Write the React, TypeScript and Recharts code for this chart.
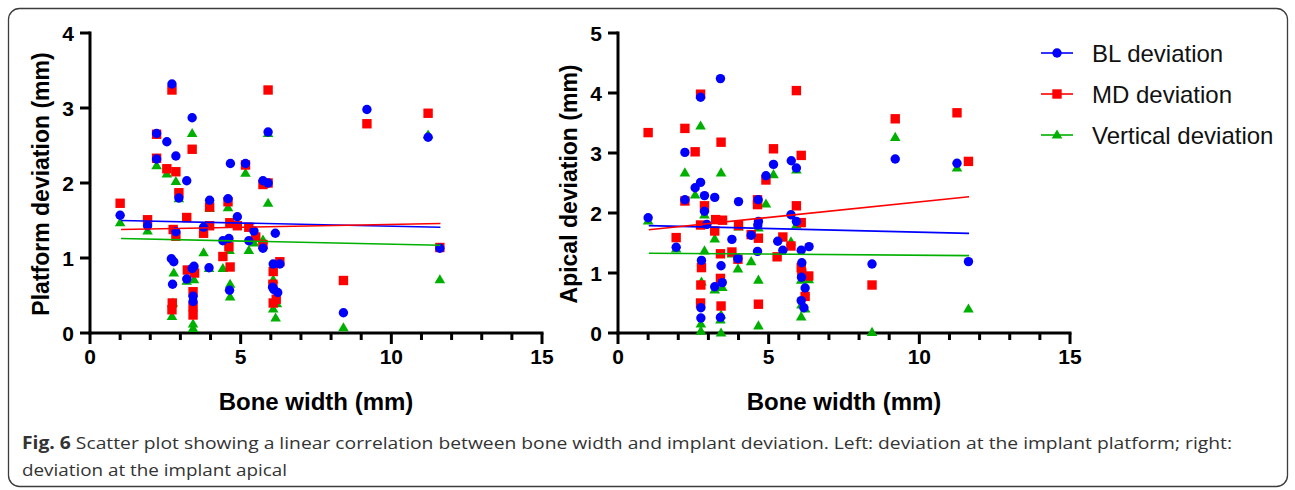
import React from 'react';
import { ScatterChart, Scatter, XAxis, YAxis } from 'recharts';

type Pt = [number, number];

// bone width axis (shared by both panels)
const boneTicks = [0, 1, 2, 3, 4, 5, 6, 7, 8, 9, 10, 11, 12, 13, 14, 15];
const platformTicks = [0, 1, 2, 3, 4];
const apicalTicks = [0, 1, 2, 3, 4, 5];

const seriesNames = ['BL deviation', 'MD deviation', 'Vertical deviation'];

// ---- left panel: platform deviation ----
const platformBL: Pt[] = [
  [1.0, 1.57], [1.91, 1.43], [2.21, 2.66], [2.21, 2.32], [2.55, 2.55], [2.72, 3.32], [2.7, 0.99],
  [2.78, 0.95], [2.74, 0.65], [2.85, 2.36], [2.85, 1.35], [2.95, 1.8], [3.21, 2.03], [3.21, 0.72],
  [3.39, 2.87], [3.39, 0.86], [3.45, 0.89], [3.42, 0.49], [3.42, 0.42], [3.77, 1.41], [3.95, 0.87],
  [3.97, 1.77], [4.41, 1.23], [4.61, 1.26], [4.58, 1.79], [4.66, 2.26], [4.63, 0.57], [4.89, 1.55],
  [5.16, 2.26], [5.27, 1.23], [5.44, 1.36], [5.74, 1.13], [5.74, 2.03], [5.91, 2.0], [5.91, 2.68],
  [6.08, 0.92], [6.15, 1.33], [6.06, 0.61], [6.1, 0.58], [6.23, 0.54], [6.3, 0.92], [8.41, 0.27],
  [9.19, 2.98], [11.22, 2.61], [11.61, 1.13],
];
const platformMD: Pt[] = [
  [1.0, 1.73], [1.91, 1.51], [2.21, 2.65], [2.21, 2.33], [2.55, 2.19], [2.72, 3.24], [2.85, 2.15],
  [2.95, 1.87], [2.76, 1.38], [2.85, 1.29], [2.73, 0.4], [2.72, 0.31], [3.21, 1.54], [3.23, 0.84],
  [3.39, 2.45], [3.42, 0.55], [3.42, 0.35], [3.42, 0.24], [3.47, 0.8], [3.77, 1.33], [3.97, 1.43],
  [3.97, 1.68], [4.41, 1.02], [4.58, 1.75], [4.64, 1.47], [4.61, 1.15], [4.65, 0.88], [4.89, 1.43],
  [5.16, 2.24], [5.27, 1.41], [5.5, 1.28], [5.74, 1.18], [5.74, 1.98], [5.91, 2.0], [5.91, 3.24],
  [6.08, 0.82], [6.07, 0.65], [6.08, 0.4], [6.18, 0.45], [6.3, 0.95], [8.41, 0.7], [9.19, 2.79],
  [11.22, 2.93], [11.61, 1.14],
];
const platformVT: Pt[] = [
  [1.0, 1.47], [1.91, 1.36], [2.21, 2.23], [2.55, 2.12], [2.78, 0.8], [2.75, 0.4], [2.72, 0.22],
  [2.85, 2.02], [2.95, 1.79], [3.39, 2.66], [3.45, 0.71], [3.21, 0.69], [3.42, 0.12], [3.42, 0.06],
  [3.77, 1.07], [3.97, 1.66], [3.95, 0.86], [4.41, 0.86], [4.58, 1.67], [4.63, 1.1], [4.65, 0.65],
  [4.65, 0.48], [5.16, 2.13], [5.27, 1.1], [5.44, 1.2], [5.74, 1.24], [5.91, 1.73], [5.91, 2.66],
  [6.08, 0.71], [6.08, 0.32], [6.2, 0.39], [6.16, 0.2], [8.41, 0.07], [11.22, 2.64], [11.61, 0.71],
];
// fitted lines, end points
const platformFitBL: Pt[] = [[1.03, 1.5], [11.63, 1.41]];
const platformFitMD: Pt[] = [[1.03, 1.38], [11.63, 1.46]];
const platformFitVT: Pt[] = [[1.03, 1.26], [11.63, 1.17]];

// ---- right panel: apical deviation ----
const apicalBL: Pt[] = [
  [1.0, 1.92], [1.93, 1.43], [2.22, 3.01], [2.22, 2.22], [2.56, 2.42], [2.74, 2.51], [2.74, 3.93],
  [2.87, 2.29], [2.87, 2.03], [2.95, 1.81], [2.77, 1.21], [2.75, 0.42], [2.75, 0.25], [3.21, 2.26],
  [3.21, 0.77], [3.4, 4.24], [3.42, 1.12], [3.46, 0.84], [3.4, 0.26], [3.78, 1.56], [4.0, 2.19],
  [3.98, 1.24], [4.42, 1.63], [4.65, 2.22], [4.66, 1.86], [4.64, 1.8], [4.63, 1.36], [4.91, 2.62],
  [5.16, 2.81], [5.3, 1.53], [5.47, 1.38], [5.75, 2.87], [5.92, 2.75], [5.74, 1.97], [5.92, 1.86],
  [6.08, 1.38], [6.1, 1.17], [6.09, 0.93], [6.08, 0.54], [6.17, 0.42], [6.21, 0.75], [6.34, 1.44],
  [8.43, 1.15], [9.2, 2.9], [11.25, 2.83], [11.63, 1.19],
];
const apicalMD: Pt[] = [
  [1.0, 3.34], [1.93, 1.59], [2.22, 3.41], [2.22, 2.2], [2.56, 3.02], [2.74, 3.98], [2.87, 2.12],
  [2.74, 1.8], [2.77, 1.09], [2.75, 0.8], [2.74, 0.5], [3.21, 1.7], [3.24, 1.89], [3.42, 3.18],
  [3.47, 1.88], [3.4, 1.32], [3.4, 0.91], [3.42, 0.45], [3.78, 1.35], [4.0, 1.79], [3.98, 1.23],
  [4.42, 1.64], [4.63, 2.22], [4.63, 2.14], [4.66, 1.58], [4.66, 0.48], [4.91, 2.55], [5.16, 3.07],
  [5.28, 1.27], [5.47, 1.6], [5.74, 1.45], [5.92, 4.04], [5.92, 2.12], [6.08, 2.96], [6.08, 1.84],
  [6.08, 1.09], [6.1, 1.0], [6.33, 0.95], [6.21, 0.61], [8.43, 0.8], [9.2, 3.57], [11.25, 3.67],
  [11.63, 2.86],
];
const apicalVT: Pt[] = [
  [1.0, 1.87], [1.93, 1.4], [2.22, 2.67], [2.56, 2.3], [2.74, 3.45], [2.87, 1.97], [2.87, 1.37],
  [2.77, 0.85], [2.75, 0.15], [2.75, 0.03], [3.21, 1.57], [3.21, 0.72], [3.42, 2.67], [3.46, 0.76],
  [3.42, 0.3], [3.4, 0.22], [3.42, 0.0], [3.78, 1.32], [4.0, 1.77], [3.98, 1.07], [4.42, 1.19],
  [4.66, 1.75], [4.66, 0.88], [4.66, 0.12], [4.91, 2.15], [5.16, 2.64], [5.74, 1.52], [5.92, 2.72],
  [5.92, 1.8], [6.08, 0.88], [6.09, 0.47], [6.08, 0.27], [6.21, 0.4], [6.33, 0.89], [8.43, 0.01],
  [9.2, 3.26], [11.25, 2.75], [11.63, 0.4],
];
const apicalFitBL: Pt[] = [[1.02, 1.79], [11.65, 1.66]];
const apicalFitMD: Pt[] = [[1.02, 1.72], [11.65, 2.27]];
const apicalFitVT: Pt[] = [[1.02, 1.33], [11.65, 1.29]];

const BLUE = '#0000ff';
const RED = '#ff0000';
const GREEN = '#00b000';
const FONT = '"Liberation Sans", Arial, Helvetica, sans-serif';

const toXY = (pts: Pt[]) => pts.map(([x, y]) => ({ x, y }));

const Circle = (p: any) => <circle cx={p.cx} cy={p.cy} r={4.7} fill={BLUE} />;
const Square = (p: any) => <rect x={p.cx - 4.7} y={p.cy - 4.7} width={9.4} height={9.4} fill={RED} />;
const Triangle = (p: any) => (
  <polygon
    points={`${p.cx},${p.cy - 5.6} ${p.cx - 5.3},${p.cy + 3.6} ${p.cx + 5.3},${p.cy + 3.6}`}
    fill={GREEN}
  />
);
const NoDot = () => <g />;

const XTick = (p: any) => {
  const v = p.payload.value;
  const major = v % 5 === 0;
  return (
    <g>
      <line x1={p.x} x2={p.x} y1={p.y} y2={p.y + (major ? 11 : 7)} stroke="#000" strokeWidth={3} />
      {major && (
        <text x={p.x} y={p.y + 31} textAnchor="middle" fontSize={21} fontWeight="bold" fontFamily={FONT} fill="#000">
          {v}
        </text>
      )}
    </g>
  );
};

const YTick = (p: any) => (
  <g>
    <line x1={p.x - 10} x2={p.x} y1={p.y} y2={p.y} stroke="#000" strokeWidth={3} />
    <text x={p.x - 16} y={p.y + 7.5} textAnchor="end" fontSize={21} fontWeight="bold" fontFamily={FONT} fill="#000">
      {p.payload.value}
    </text>
  </g>
);

interface PanelProps {
  left: number;
  yMax: number;
  yTicks: number[];
  yAxisWidth: number;
  rightMargin: number;
  bl: Pt[];
  md: Pt[];
  vt: Pt[];
  fits: Pt[][];
}

const Panel: React.FC<PanelProps> = ({ left, yMax, yTicks, yAxisWidth, rightMargin, bl, md, vt, fits }) => (
  <div style={{ position: 'absolute', left, top: 0 }}>
    <ScatterChart width={580} height={420} margin={{ top: 33, right: rightMargin, bottom: 0, left: 0 }}>
      <XAxis
        type="number"
        dataKey="x"
        domain={[0, 15]}
        ticks={boneTicks}
        interval={0}
        tick={<XTick />}
        tickLine={false}
        tickSize={0}
        tickMargin={0}
        height={87}
        axisLine={{ stroke: '#000', strokeWidth: 3, strokeLinecap: 'square' }}
      />
      <YAxis
        type="number"
        dataKey="y"
        domain={[0, yMax]}
        ticks={yTicks}
        interval={0}
        tick={<YTick />}
        tickLine={false}
        tickSize={0}
        tickMargin={0}
        width={yAxisWidth}
        axisLine={{ stroke: '#000', strokeWidth: 3, strokeLinecap: 'square' }}
      />
      <Scatter data={toXY(vt)} shape={Triangle} isAnimationActive={false} />
      <Scatter data={toXY(md)} shape={Square} isAnimationActive={false} />
      <Scatter data={toXY(bl)} shape={Circle} isAnimationActive={false} />
      {fits.map((f, i) => (
        <Scatter
          key={i}
          data={toXY(f)}
          shape={NoDot}
          line={{ stroke: [BLUE, RED, GREEN][i], strokeWidth: 1.6 }}
          isAnimationActive={false}
        />
      ))}
    </ScatterChart>
  </div>
);

const legendRows = [
  { name: seriesNames[0], color: BLUE, y: 53 },
  { name: seriesNames[1], color: RED, y: 94 },
  { name: seriesNames[2], color: GREEN, y: 135 },
];

const App: React.FC = () => (
  <div style={{ position: 'absolute', left: 0, top: 0, width: 1295, height: 490, background: '#fff', overflow: 'hidden' }}>
    <Panel
      left={0}
      yMax={4}
      yTicks={platformTicks}
      yAxisWidth={90}
      rightMargin={38}
      bl={platformBL}
      md={platformMD}
      vt={platformVT}
      fits={[platformFitBL, platformFitMD, platformFitVT]}
    />
    <Panel
      left={520}
      yMax={5}
      yTicks={apicalTicks}
      yAxisWidth={98}
      rightMargin={30}
      bl={apicalBL}
      md={apicalMD}
      vt={apicalVT}
      fits={[apicalFitBL, apicalFitMD, apicalFitVT]}
    />
    <svg width={1295} height={490} style={{ position: 'absolute', left: 0, top: 0, pointerEvents: 'none' }}>
      <rect x={8.5} y={8.5} width={1279} height={478} rx={11} fill="none" stroke="#3c3c3c" strokeWidth={1.3} />

      {/* axis titles */}
      <text x={316} y={410} textAnchor="middle" fontSize={24} fontWeight="bold" fontFamily={FONT}>Bone width (mm)</text>
      <text x={844} y={410} textAnchor="middle" fontSize={24} fontWeight="bold" fontFamily={FONT}>Bone width (mm)</text>
      <text transform="translate(41,184) rotate(-90)" textAnchor="middle" dominantBaseline="central" fontSize={23} fontWeight="bold" fontFamily={FONT}>
        Platform deviation (mm)
      </text>
      <text transform="translate(569,184) rotate(-90)" textAnchor="middle" dominantBaseline="central" fontSize={23} fontWeight="bold" fontFamily={FONT}>
        Apical deviation (mm)
      </text>

      {/* legend */}
      {legendRows.map((r, i) => (
        <g key={r.name}>
          <line x1={1041} x2={1073} y1={r.y} y2={r.y} stroke={r.color} strokeWidth={1.6} />
          {i === 0 && <circle cx={1057} cy={r.y} r={4.7} fill={r.color} />}
          {i === 1 && <rect x={1052.3} y={r.y - 4.7} width={9.4} height={9.4} fill={r.color} />}
          {i === 2 && <polygon points={`1057,${r.y - 5.6} 1051.7,${r.y + 3.6} 1062.3,${r.y + 3.6}`} fill={r.color} />}
          <text x={1092} y={r.y + 8.5} fontSize={24} fontFamily={FONT} fill="#111">{r.name}</text>
        </g>
      ))}

      {/* caption */}
      <text x={22} y={449} fontSize={17} fontFamily='"Open Sans", "Noto Sans", sans-serif' fill="#333" textLength={1210} lengthAdjust="spacingAndGlyphs">
        <tspan fontWeight="bold">Fig. 6</tspan> Scatter plot showing a linear correlation between bone width and implant deviation. Left: deviation at the implant platform; right:
      </text>
      <text x={22} y={476} fontSize={17} fontFamily='"Open Sans", "Noto Sans", sans-serif' fill="#333" textLength={265} lengthAdjust="spacingAndGlyphs">
        deviation at the implant apical
      </text>
    </svg>
  </div>
);

export default App;
